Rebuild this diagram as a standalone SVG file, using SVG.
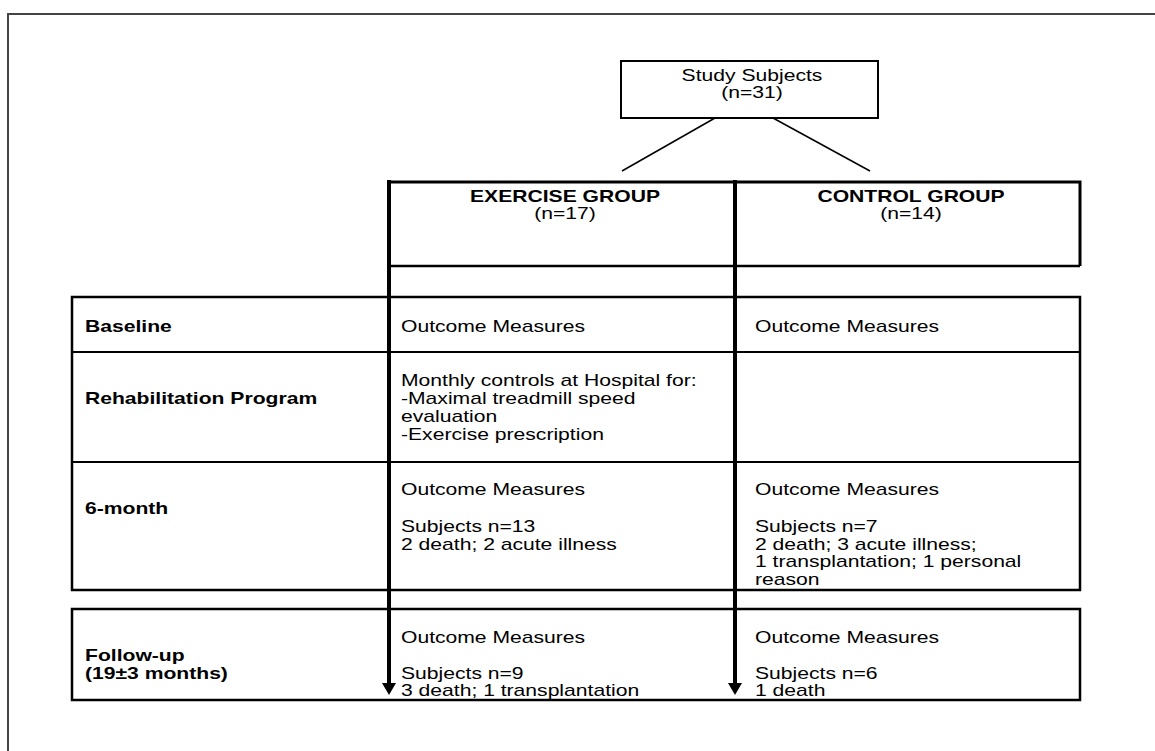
<svg xmlns="http://www.w3.org/2000/svg" width="1155" height="751" viewBox="0 0 1155 751">
<style>
  text { font-family: "Liberation Sans", Arial, sans-serif; font-size: 16px; fill: #000; }
  .b { font-weight: bold; }
  .c { text-anchor: middle; }
  .thin { fill: none; stroke: #000; stroke-width: 2; }
  .med { fill: none; stroke: #000; stroke-width: 2.5; }
  .thick { fill: none; stroke: #000; stroke-width: 3; }
  .arrow { stroke: #000; stroke-width: 4; fill: none; }
  .diag { stroke: #000; stroke-width: 1.5; fill: none; }
</style>
<defs>
  <marker id="ah" viewBox="0 0 12 14" refX="0" refY="7" markerWidth="12" markerHeight="14" markerUnits="userSpaceOnUse" orient="auto">
    <path d="M0,0 L12,7 L0,14 z" fill="#000"/>
  </marker>
</defs>
<rect width="1155" height="751" fill="#fff"/>
<path d="M8,751 L8,14 L1155,14" fill="none" stroke="#444" stroke-width="2"/>

<g id="study">
  <rect class="thin" x="621" y="61" width="257" height="57"/>
  <text class="c" transform="translate(752 81) scale(1.32 1)">Study Subjects</text>
  <text class="c" transform="translate(752 98) scale(1.32 1)">(n=31)</text>
</g>

<g id="groups">
  <path class="thick" d="M389,182 L1080,182 L1080,266"/>
  <path class="med" d="M389,266 L1080,266"/>
  <text class="b c" transform="translate(565 202) scale(1.32 1)">EXERCISE GROUP</text>
  <text class="c" transform="translate(565 219) scale(1.32 1)">(n=17)</text>
  <text class="b c" transform="translate(911 202) scale(1.32 1)">CONTROL GROUP</text>
  <text class="c" transform="translate(911 219) scale(1.32 1)">(n=14)</text>
</g>

<g id="table">
  <rect class="med" x="72" y="297" width="1008" height="293"/>
  <path class="thin" d="M72,352 L1080,352 M72,462 L1080,462"/>
</g>

<g id="row-baseline">
  <text class="b" transform="translate(85 332) scale(1.32 1)">Baseline</text>
  <text transform="translate(401 332) scale(1.32 1)">Outcome Measures</text>
  <text transform="translate(755 332) scale(1.32 1)">Outcome Measures</text>
</g>

<g id="row-rehab">
  <text class="b" transform="translate(85 404) scale(1.32 1)">Rehabilitation Program</text>
  <text transform="translate(401 386) scale(1.32 1)"><tspan x="0">Monthly controls at Hospital for:</tspan><tspan x="0" dy="18">-Maximal treadmill speed</tspan><tspan x="0" dy="18">evaluation</tspan><tspan x="0" dy="18">-Exercise prescription</tspan></text>
</g>

<g id="row-6month">
  <text class="b" transform="translate(85 514) scale(1.32 1)">6-month</text>
  <text transform="translate(401 495) scale(1.32 1)">Outcome Measures</text>
  <text transform="translate(401 532) scale(1.32 1)"><tspan x="0">Subjects n=13</tspan><tspan x="0" dy="18">2 death; 2 acute illness</tspan></text>
  <text transform="translate(755 495) scale(1.32 1)">Outcome Measures</text>
  <text transform="translate(755 532) scale(1.32 1)"><tspan x="0">Subjects n=7</tspan><tspan x="0" dy="18">2 death; 3 acute illness;</tspan><tspan x="0" dy="17.5">1 transplantation; 1 personal</tspan><tspan x="0" dy="17.5">reason</tspan></text>
</g>

<g id="row-followup">
  <rect class="med" x="72" y="609" width="1008" height="91"/>
  <text class="b" transform="translate(85 661) scale(1.32 1)"><tspan x="0">Follow-up</tspan><tspan x="0" dy="18">(19±3 months)</tspan></text>
  <text transform="translate(401 643) scale(1.32 1)">Outcome Measures</text>
  <text transform="translate(401 679) scale(1.32 1)"><tspan x="0">Subjects n=9</tspan><tspan x="0" dy="17">3 death; 1 transplantation</tspan></text>
  <text transform="translate(755 643) scale(1.32 1)">Outcome Measures</text>
  <text transform="translate(755 679) scale(1.32 1)"><tspan x="0">Subjects n=6</tspan><tspan x="0" dy="17">1 death</tspan></text>
</g>

<g id="connectors">
  <line class="diag" x1="715" y1="118" x2="622" y2="171"/>
  <line class="diag" x1="773" y1="118" x2="870" y2="171"/>
  <line class="arrow" x1="389" y1="180" x2="389" y2="683" marker-end="url(#ah)"/>
  <line class="arrow" x1="735" y1="180" x2="735" y2="683" marker-end="url(#ah)"/>
</g>
</svg>
